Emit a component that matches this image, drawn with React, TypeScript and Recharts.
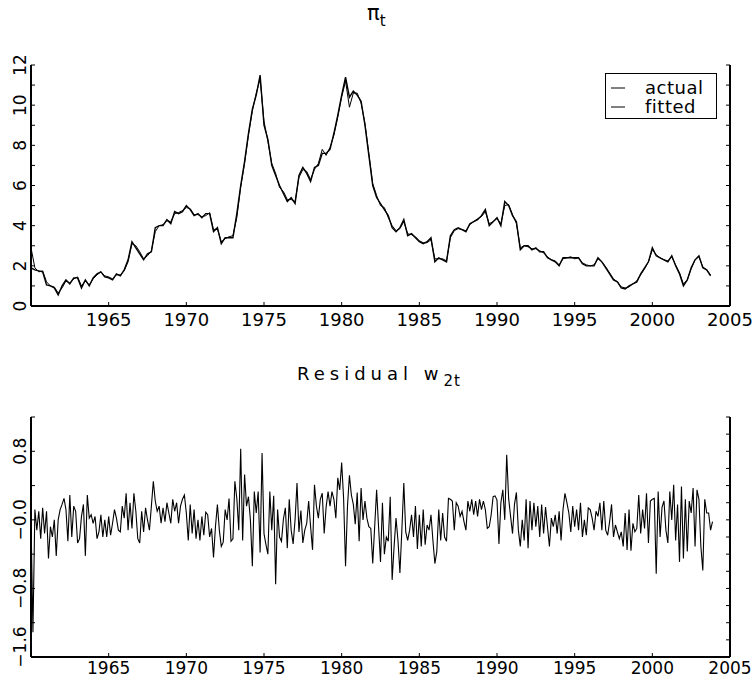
import React from 'react';
import { LineChart, Line, XAxis, YAxis } from 'recharts';

const START_YEAR = 1960;
const FONT = 'DejaVu Sans';

// quarterly inflation, 1960Q1 .. 2003Q4
const piActual = [
  1.9, 1.8, 1.75, 1.7, 1.05, 1.0, 0.9, 0.55, 1.0, 1.3, 1.1, 1.4, 1.4, 0.9, 1.3, 1.0,
  1.4, 1.6, 1.7, 1.45, 1.4, 1.3, 1.6, 1.5, 1.8, 2.3, 3.2, 2.9, 2.6, 2.3, 2.6, 2.7,
  3.9, 4.0, 4.0, 4.3, 4.1, 4.7, 4.6, 4.7, 5.0, 4.8, 4.5, 4.6, 4.4, 4.6, 4.6, 3.7,
  3.9, 3.1, 3.4, 3.4, 3.4, 4.6, 6.0, 7.2, 8.6, 9.8, 10.5, 11.5, 9.0, 8.3, 7.0, 6.5,
  6.0, 5.6, 5.2, 5.4, 5.1, 6.5, 6.9, 6.6, 6.2, 6.9, 7.0, 7.6, 7.6, 7.8, 8.6, 9.5,
  10.5, 11.4, 10.4, 10.7, 10.5, 10.2, 9.0, 7.5, 6.0, 5.4, 5.1, 4.8, 4.5, 3.9, 3.7, 3.9,
  4.3, 3.5, 3.6, 3.4, 3.2, 3.1, 3.2, 3.4, 2.2, 2.4, 2.3, 2.2, 3.5, 3.8, 3.9, 3.8,
  3.7, 4.1, 4.2, 4.3, 4.5, 4.8, 4.0, 4.2, 4.4, 4.0, 5.2, 5.0, 4.5, 4.2, 2.8, 3.0,
  3.0, 2.8, 2.9, 2.7, 2.7, 2.4, 2.3, 2.2, 2.0, 2.4, 2.4, 2.4, 2.4, 2.4, 2.1, 2.0,
  2.0, 2.0, 2.4, 2.2, 1.9, 1.6, 1.3, 1.2, 0.9, 0.85, 1.0, 1.1, 1.2, 1.6, 1.9, 2.2,
  2.9, 2.5, 2.4, 2.3, 2.2, 2.5, 2.0, 1.6, 1.0, 1.3, 1.9, 2.3, 2.5, 1.9, 1.8, 1.5,
];

const piFitted = [
  2.9, 1.9, 1.7, 1.75, 1.2, 1.0, 0.95, 0.65, 0.9, 1.25, 1.15, 1.35, 1.45, 1.0, 1.25, 1.05,
  1.35, 1.55, 1.7, 1.5, 1.45, 1.35, 1.55, 1.55, 1.75, 2.2, 3.1, 3.0, 2.7, 2.35, 2.5, 2.75,
  3.7, 4.0, 4.05, 4.25, 4.2, 4.6, 4.65, 4.75, 4.9, 4.85, 4.55, 4.55, 4.45, 4.5, 4.65, 3.8,
  3.85, 3.2, 3.35, 3.45, 3.5, 4.4, 5.9, 7.1, 8.5, 9.7, 10.6, 11.3, 9.2, 8.2, 7.1, 6.6,
  5.9, 5.7, 5.3, 5.3, 5.2, 6.4, 6.8, 6.7, 6.3, 6.8, 7.1, 7.8, 7.5, 7.9, 8.5, 9.4,
  10.4, 11.2, 9.9, 10.6, 10.6, 10.1, 9.1, 7.6, 6.1, 5.5, 5.0, 4.9, 4.4, 4.0, 3.75, 3.85,
  4.2, 3.6, 3.55, 3.45, 3.25, 3.15, 3.15, 3.3, 2.35, 2.35, 2.35, 2.25, 3.4, 3.75, 3.85, 3.8,
  3.75, 4.05, 4.2, 4.35, 4.45, 4.7, 4.1, 4.2, 4.35, 4.1, 5.0, 5.05, 4.55, 4.1, 2.9, 3.0,
  2.95, 2.85, 2.85, 2.75, 2.65, 2.45, 2.3, 2.25, 2.05, 2.35, 2.4, 2.45, 2.35, 2.4, 2.15, 2.05,
  2.0, 2.05, 2.35, 2.2, 1.95, 1.65, 1.35, 1.2, 0.95, 0.9, 0.95, 1.1, 1.25, 1.55, 1.85, 2.2,
  2.8, 2.55, 2.4, 2.3, 2.25, 2.45, 2.05, 1.65, 1.1, 1.3, 1.85, 2.3, 2.45, 1.95, 1.8, 1.55,
];

// residual w2t, eight readings per year, 1960 .. 2003
const residual = [
  0.0, -1.31, 0.12, -0.12, 0.1, -0.22, 0.14, -0.16,
  0.1, -0.45, -0.08, -0.2, 0.0, -0.42, 0.0, 0.12,
  0.18, 0.25, 0.12, -0.25, 0.29, -0.2, 0.16, 0.1,
  -0.27, -0.22, 0.04, 0.18, -0.42, 0.29, 0.02, 0.06,
  -0.04, 0.04, -0.22, -0.14, 0.06, -0.2, 0.0, -0.2,
  0.04, -0.18, -0.04, 0.12, 0.02, -0.12, -0.14, 0.16,
  0.02, 0.31, -0.12, 0.2, -0.1, 0.31, 0.1, -0.22,
  -0.27, 0.1, -0.14, 0.14, 0.0, -0.12, 0.16, 0.45,
  0.22, 0.1, 0.16, -0.04, 0.14, -0.02, 0.2, 0.08,
  -0.04, 0.24, 0.1, 0.2, -0.04, 0.16, 0.24, 0.29,
  0.08, -0.24, 0.18, -0.16, 0.12, -0.22, 0.0, -0.24,
  0.04, -0.18, 0.09, 0.06, -0.2, -0.1, -0.44, -0.08,
  0.18, -0.12, -0.31, -0.26, 0.12, 0.0, 0.25, -0.25,
  -0.22, 0.45, 0.25, -0.12, 0.83, -0.24, 0.53, 0.16,
  0.27, 0.0, -0.54, 0.33, 0.08, 0.33, -0.38, 0.78,
  -0.16, -0.29, -0.4, 0.33, -0.12, 0.28, -0.75, 0.12,
  -0.2, -0.25, 0.01, 0.14, -0.33, 0.24, -0.12, -0.28,
  0.0, 0.43, -0.14, 0.11, -0.27, -0.12, -0.04, 0.22,
  -0.08, -0.35, 0.41, 0.16, 0.02, 0.24, 0.31, -0.16,
  0.15, 0.33, 0.16, 0.33, 0.24, 0.02, 0.49, 0.35,
  0.67, 0.25, -0.54, 0.16, 0.52, 0.29, 0.18, -0.05,
  0.32, -0.25, 0.37, 0.0, 0.22, 0.02, -0.08, -0.1,
  -0.51, -0.08, 0.35, -0.08, -0.49, 0.2, -0.4, -0.2,
  -0.25, 0.27, -0.7, -0.31, 0.02, -0.24, -0.62, -0.12,
  0.43, -0.14, -0.24, -0.12, 0.06, -0.2, 0.16, -0.34,
  0.06, -0.31, 0.12, -0.29, -0.06, -0.12, 0.06, -0.24,
  -0.51, -0.37, 0.12, -0.24, 0.08, -0.2, -0.25, 0.25,
  0.24, 0.22, -0.12, 0.2, 0.16, 0.04, 0.1, -0.02,
  -0.12, 0.22, 0.1, 0.24, 0.06, 0.22, 0.04, 0.24,
  0.12, 0.22, 0.12, -0.1, -0.08, 0.06, 0.27, 0.28,
  0.23, -0.28, 0.2, 0.35, 0.0, 0.76, 0.25, 0.04,
  -0.16, 0.18, 0.32, -0.12, -0.31, 0.0, -0.24, 0.24,
  -0.33, 0.22, -0.12, 0.2, -0.08, 0.16, -0.2, 0.18,
  -0.16, 0.15, -0.08, -0.31, 0.02, -0.08, 0.06, -0.16,
  0.1, -0.24, 0.12, 0.31, 0.2, 0.08, -0.14, 0.16,
  -0.08, 0.12, -0.12, 0.2, -0.2, 0.0, -0.18, 0.14,
  0.12, 0.02, -0.12, 0.1, 0.04, 0.2, -0.12, 0.22,
  -0.12, -0.18, -0.02, 0.18, -0.2, -0.06, -0.14, -0.22,
  -0.14, -0.31, 0.08, -0.35, 0.12, -0.36, -0.04, -0.14,
  -0.1, 0.29, -0.16, 0.12, -0.1, 0.31, -0.27, 0.22,
  0.24, 0.25, -0.63, 0.33, -0.2, 0.15, 0.22, -0.12,
  -0.27, 0.33, 0.0, 0.41, -0.24, 0.18, -0.49, 0.39,
  -0.45, 0.24, -0.37, 0.22, 0.08, 0.37, -0.31, 0.35,
  0.24, -0.31, -0.59, 0.24, 0.08, 0.08, -0.12, -0.02,
];

const yearLabels = [1965, 1970, 1975, 1980, 1985, 1990, 1995, 2000, 2005];
const yearMarks = [1965, 1970, 1975, 1980, 1985, 1990, 1995, 2000];
const piTicks = [0, 1, 2, 3, 4, 5, 6, 7, 8, 9, 10, 11, 12];
const piLabels = [0, 2, 4, 6, 8, 10, 12];
const resLeftTicks = [-1.6, -1.2, -0.8, -0.4, 0, 0.4, 0.8, 1.2];
const resRightTicks = [-1.6, -1.4, -1.2, -1.0, -0.8, -0.6, -0.4, -0.2, 0, 0.2, 0.4, 0.6, 0.8, 1.0, 1.2];
const resLabelValues = [-1.6, -0.8, 0, 0.8];
const resLabelTexts = ['\u22121.6', '\u22120.8', '\u22120.0', '0.8'];

const piData = piActual.map((v, i) => ({ t: START_YEAR + i / 4, actual: v, fitted: piFitted[i] }));
const resData = residual.map((v, i) => ({ t: START_YEAR + i / 8, w: v }));

const near = (a: number, b: number) => Math.abs(a - b) < 1e-6;

const makeBottomTick = (offset: number, size: number) => (props: any) => {
  const { x, y, payload } = props;
  return (
    <g>
      {payload.value < 2005 && <line x1={x} x2={x} y1={y} y2={y - 4} stroke="#000" strokeWidth={1} />}
      <text x={x} y={y + offset} textAnchor="middle" fontSize={size} fontFamily={FONT} fill="#000">
        {payload.value}
      </text>
    </g>
  );
};

const PiBottomTick = makeBottomTick(20, 18);
const ResBottomTick = makeBottomTick(17, 17);

const TopTick = (props: any) => {
  const { x, y } = props;
  return <line x1={x} x2={x} y1={y} y2={y + 4} stroke="#000" strokeWidth={1} />;
};

const RightTick = (props: any) => {
  const { x, y } = props;
  return <line x1={x} x2={x - 4} y1={y} y2={y} stroke="#000" strokeWidth={1} />;
};

// lowest label sits a little above its tick so it stays inside the picture
const makeLeftTick = (values: number[], texts: string[], lowShift: number) => (props: any) => {
  const { x, y, payload } = props;
  const idx = values.findIndex((v) => near(v, payload.value));
  const bx = x - 5;
  const cy = idx === 0 ? y - lowShift : y;
  return (
    <g>
      <line x1={x} x2={x + 4} y1={y} y2={y} stroke="#000" strokeWidth={1} />
      {idx >= 0 && (
        <text
          x={bx}
          y={cy}
          transform={`rotate(-90, ${bx}, ${cy})`}
          textAnchor="middle"
          fontSize={17}
          fontFamily={FONT}
          fill="#000"
        >
          {texts[idx]}
        </text>
      )}
    </g>
  );
};

const PiLeftTick = makeLeftTick(piLabels, piLabels.map(String), 0);
const ResLeftTick = makeLeftTick(resLabelValues, resLabelTexts, 10);

const frame = { stroke: '#000', strokeWidth: 2 };

export default function App() {
  return (
    <div style={{ position: 'absolute', left: 0, top: 0, width: 753, height: 677, background: '#fff' }}>
      <svg width={753} height={677} style={{ position: 'absolute', left: 0, top: 0 }}>
        <text x={367} y={20} fontSize={21} fontFamily={FONT} fill="#000">
          π<tspan dy={6} fontSize={15}>t</tspan>
        </text>
        <text x={297} y={380} fontSize={18} fontFamily={FONT} letterSpacing={5} fill="#000">
          Residual w
          <tspan dy={6} fontSize={15} letterSpacing={1}>
            2t
          </tspan>
        </text>
      </svg>

      <div style={{ position: 'absolute', left: 0, top: 0 }}>
        <LineChart width={753} height={340} data={piData} margin={{ top: 65, right: 0, bottom: 0, left: 0 }}>
          <XAxis
            dataKey="t"
            type="number"
            domain={[1960, 2005]}
            ticks={yearLabels}
            height={34}
            tickSize={0}
            tickMargin={0}
            axisLine={frame}
            tickLine={false}
            tick={PiBottomTick}
            allowDataOverflow
          />
          <XAxis
            xAxisId="top"
            dataKey="t"
            type="number"
            orientation="top"
            domain={[1960, 2005]}
            ticks={yearMarks}
            height={0}
            tickSize={0}
            tickMargin={0}
            axisLine={frame}
            tickLine={false}
            tick={TopTick}
            allowDataOverflow
          />
          <YAxis
            type="number"
            domain={[0, 12]}
            ticks={piTicks}
            width={31}
            tickSize={0}
            tickMargin={0}
            axisLine={frame}
            tickLine={false}
            tick={PiLeftTick}
            interval={0}
            allowDataOverflow
          />
          <YAxis
            yAxisId="right"
            orientation="right"
            type="number"
            domain={[0, 12]}
            ticks={piTicks}
            width={23}
            tickSize={0}
            tickMargin={0}
            axisLine={frame}
            tickLine={false}
            tick={RightTick}
            interval={0}
            allowDataOverflow
          />
          <Line
            dataKey="fitted"
            xAxisId="top"
            yAxisId="right"
            type="linear"
            stroke="#000"
            strokeWidth={1}
            dot={false}
            isAnimationActive={false}
          />
          <Line dataKey="actual" type="linear" stroke="#000" strokeWidth={1.4} dot={false} isAnimationActive={false} />
        </LineChart>
      </div>

      <div style={{ position: 'absolute', left: 0, top: 340 }}>
        <LineChart width={753} height={337} data={resData} margin={{ top: 77, right: 0, bottom: 0, left: 0 }}>
          <XAxis
            dataKey="t"
            type="number"
            domain={[1960, 2005]}
            ticks={yearLabels}
            height={20}
            tickSize={0}
            tickMargin={0}
            axisLine={frame}
            tickLine={false}
            tick={ResBottomTick}
            allowDataOverflow
          />
          <XAxis
            xAxisId="top"
            dataKey="t"
            type="number"
            orientation="top"
            domain={[1960, 2005]}
            ticks={yearMarks}
            height={0}
            tickSize={0}
            tickMargin={0}
            axisLine={frame}
            tickLine={false}
            tick={TopTick}
            allowDataOverflow
          />
          <YAxis
            type="number"
            domain={[-1.6, 1.2]}
            ticks={resLeftTicks}
            width={31}
            tickSize={0}
            tickMargin={0}
            axisLine={frame}
            tickLine={false}
            tick={ResLeftTick}
            interval={0}
            allowDataOverflow
          />
          <YAxis
            yAxisId="right"
            orientation="right"
            type="number"
            domain={[-1.6, 1.2]}
            ticks={resRightTicks}
            width={23}
            tickSize={0}
            tickMargin={0}
            axisLine={frame}
            tickLine={false}
            tick={RightTick}
            interval={0}
            allowDataOverflow
          />
          <Line dataKey="w" type="linear" stroke="#000" strokeWidth={1.1} dot={false} isAnimationActive={false} />
        </LineChart>
      </div>

      <div
        style={{
          position: 'absolute',
          left: 605,
          top: 73,
          width: 112,
          height: 46,
          border: '1px solid #000',
          background: '#fff',
          boxSizing: 'border-box',
        }}
      >
        <svg width={110} height={44} style={{ display: 'block' }}>
          <line x1={5} x2={19} y1={14} y2={14} stroke="#000" strokeWidth={1} />
          <line x1={5} x2={19} y1={33} y2={33} stroke="#000" strokeWidth={1} />
          <text x={39} y={20} fontSize={18} fontFamily={FONT} letterSpacing={0.5} fill="#000">
            actual
          </text>
          <text x={39} y={39} fontSize={18} fontFamily={FONT} letterSpacing={0.5} fill="#000">
            fitted
          </text>
        </svg>
      </div>
    </div>
  );
}
